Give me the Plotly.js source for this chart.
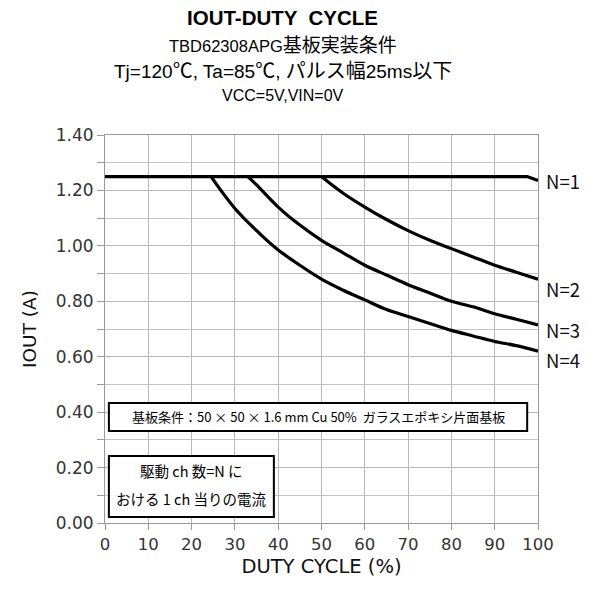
<!DOCTYPE html>
<html>
<head>
<meta charset="utf-8">
<script src="https://cdn.plot.ly/plotly-3.0.1.min.js"></script>
<style>
    body { margin: 0; background: #fff; }
    #chart { width: 599px; height: 591px; }
</style>
</head>
<body>
<div id="chart"></div>
<script>
// 読み取り値
let dutyN1 = [0, 97.5, 100];
let ioutN1 = [1.25, 1.25, 1.236];

let dutyN2 = [50, 52, 55, 60, 65, 70, 75, 80, 85, 90, 95, 100];
let ioutN2 = [1.25, 1.225, 1.19, 1.14, 1.095, 1.055, 1.02, 0.99, 0.96, 0.93, 0.905, 0.88];

let dutyN3 = [33, 35, 40, 45, 50, 55, 60, 65, 70, 75, 80, 85, 90, 95, 100];
let ioutN3 = [1.25, 1.22, 1.14, 1.075, 1.02, 0.975, 0.93, 0.895, 0.86, 0.83, 0.80, 0.78, 0.755, 0.735, 0.715];

let dutyN4 = [24.5, 27, 30, 35, 40, 45, 50, 55, 60, 65, 70, 75, 80, 85, 90, 95, 100];
let ioutN4 = [1.25, 1.195, 1.135, 1.055, 0.985, 0.93, 0.88, 0.84, 0.805, 0.77, 0.745, 0.72, 0.695, 0.675, 0.655, 0.64, 0.62];

let curveNames = ["N=1", "N=2", "N=3", "N=4"];
let yTickVals = [0, 0.2, 0.4, 0.6, 0.8, 1.0, 1.2, 1.4];
let yTickText = ["0.00", "0.20", "0.40", "0.60", "0.80", "1.00", "1.20", "1.40"];

function jpSpan(s, size) {
    return '<span style="font-family:Noto Sans CJK JP;font-size:' + size + 'px">' + s + '</span>';
}

let titleLines = [
    "<b>IOUT-DUTY  CYCLE</b>",
    "TBD62308APG" + jpSpan("基板実装条件", 19),
    "Tj=120" + jpSpan("℃", 20) + ", Ta=85" + jpSpan("℃", 20) + ", " + jpSpan("パルス幅", 20) + "25ms" + jpSpan("以下", 20),
    "VCC=5V,VIN=0V"
];
let titleSize = [20.5, 16.5, 19, 16];
let boardNote = "基板条件：50 × 50 × 1.6 mm Cu 50%  ガラスエポキシ片面基板";
let chNote = ["駆動 ch 数=N に", "おける 1 ch 当りの電流"];

let latin = "'Liberation Sans', Arial, 'Noto Sans CJK JP', sans-serif";
let wide = "'DejaVu Sans', 'Noto Sans CJK JP', sans-serif";
let jp = "'Noto Sans CJK JP', 'Liberation Sans', sans-serif";

let xs = [dutyN1, dutyN2, dutyN3, dutyN4];
let ys = [ioutN1, ioutN2, ioutN3, ioutN4];
let traces = [];
for (let i = 0; i < 4; i++) {
    traces.push({
        x: xs[i],
        y: ys[i],
        type: "scatter",
        mode: "lines",
        name: curveNames[i],
        line: { color: "#000", width: 3.2, shape: i == 0 ? "linear" : "spline", smoothing: 0.8 },
        hoverinfo: "skip"
    });
}

let annotations = [];
let titleY = [1.304, 1.237, 1.170, 1.103];
for (let i = 0; i < titleLines.length; i++) {
    annotations.push({
        xref: "paper", yref: "paper",
        x: 0.41, y: titleY[i],
        xanchor: "center", yanchor: "middle",
        showarrow: false,
        text: titleLines[i],
        font: { family: latin, size: titleSize[i], color: "#000" }
    });
}

// 右端のラベル
let labelY = [181, 289, 330, 360];
for (let i = 0; i < 4; i++) {
    annotations.push({
        xref: "paper", yref: "paper",
        x: 1.015, y: (523 - labelY[i]) / 388,
        xanchor: "left", yanchor: "middle",
        showarrow: false,
        text: curveNames[i],
        font: { family: jp, size: 18.5, color: "#111" }
    });
}

annotations.push({
    x: 49.2, y: 0.383,
    xanchor: "center", yanchor: "middle",
    showarrow: false,
    text: boardNote,
    font: { family: jp, size: 13, color: "#000" }
});
annotations.push({
    x: 19.9, y: 0.190,
    xanchor: "center", yanchor: "middle",
    showarrow: false,
    text: chNote[0],
    font: { family: jp, size: 14.5, color: "#000" }
});
annotations.push({
    x: 19.9, y: 0.090,
    xanchor: "center", yanchor: "middle",
    showarrow: false,
    text: chNote[1],
    font: { family: jp, size: 14.5, color: "#000" }
});

let shapes = [
    { type: "rect", x0: 0.9, x1: 97.5, y0: 0.332, y1: 0.433,
      line: { color: "#000", width: 2 }, fillcolor: "#fff", layer: "above" },
    { type: "rect", x0: 0.9, x1: 39, y0: 0.022, y1: 0.242,
      line: { color: "#000", width: 2 }, fillcolor: "#fff", layer: "above" }
];

let layout = {
    width: 599,
    height: 591,
    margin: { l: 105, r: 61, t: 135, b: 68 },
    paper_bgcolor: "#fff",
    plot_bgcolor: "#fff",
    showlegend: false,
    font: { family: wide, color: "#222" },
    xaxis: {
        range: [0, 100],
        dtick: 10,
        ticks: "outside",
        ticklen: 6,
        tickcolor: "#999",
        showgrid: true,
        gridcolor: "#b8b8b8",
        showline: true,
        linecolor: "#999",
        mirror: true,
        zeroline: false,
        tickfont: { family: wide, size: 16.5, color: "#333" },
        title: { text: "DUTY CYCLE (%)", font: { family: wide, size: 19.5, color: "#111" }, standoff: 6 }
    },
    yaxis: {
        range: [0, 1.4],
        tickvals: yTickVals,
        ticktext: yTickText,
        ticks: "outside",
        ticklen: 7,
        tickcolor: "#999",
        showgrid: true,
        gridcolor: "#b8b8b8",
        showline: true,
        linecolor: "#999",
        mirror: true,
        zeroline: false,
        minor: { dtick: 0.1, showgrid: true, gridcolor: "#c4c4c4", ticks: "outside", ticklen: 7, tickcolor: "#999" },
        tickfont: { family: wide, size: 17, color: "#333" },
        title: { text: "IOUT (A)", font: { family: wide, size: 18.5, color: "#111" }, standoff: 14 }
    },
    annotations: annotations,
    shapes: shapes
};

Plotly.newPlot("chart", traces, layout, { displayModeBar: false, staticPlot: true });
</script>
</body>
</html>
